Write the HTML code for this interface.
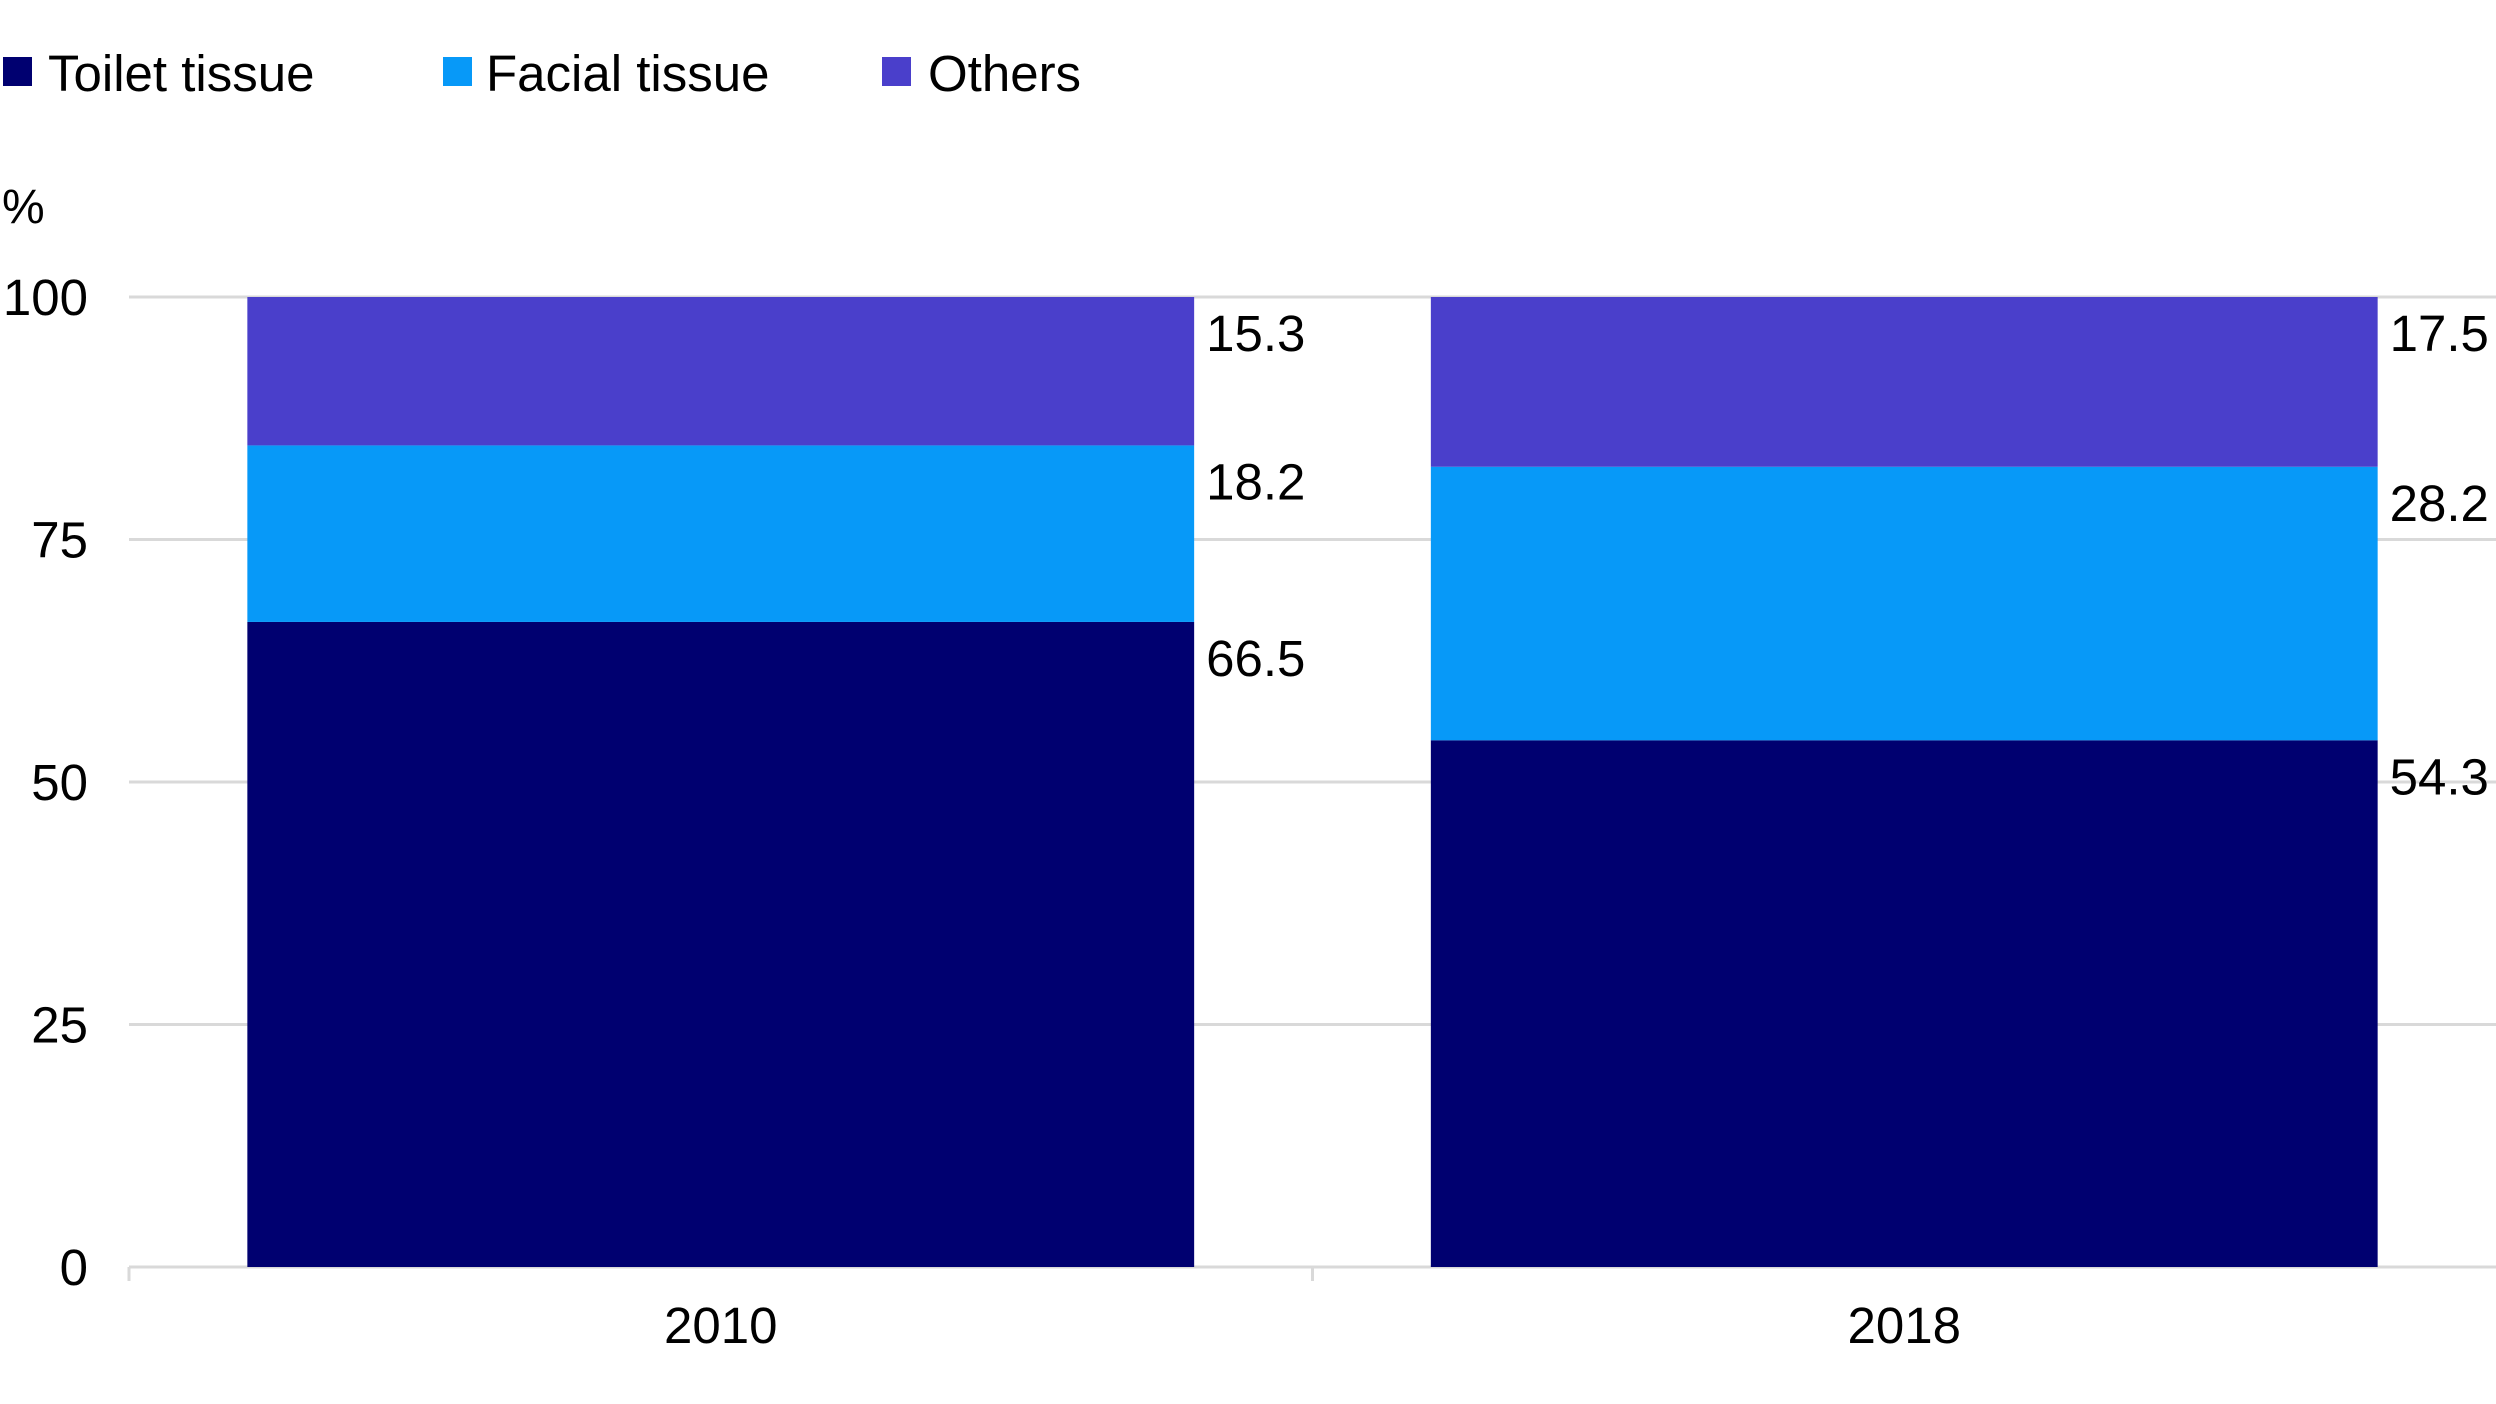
<!DOCTYPE html>
<html><head><meta charset="utf-8"><style>
html,body{margin:0;padding:0;background:#fff;}
svg{display:block;font-family:"Liberation Sans",sans-serif;}
</style></head><body>
<svg id="chart" width="2496" height="1404" viewBox="0 0 2496 1404" xmlns="http://www.w3.org/2000/svg">
<g>
<g><rect x="3" y="57" width="29" height="29" fill="#000070"/><text x="48" y="91" font-size="51" fill="#000">Toilet tissue</text></g>
<g><rect x="443" y="57" width="29" height="29" fill="#0799F8"/><text x="486" y="91" font-size="51" fill="#000">Facial tissue</text></g>
<g><rect x="882" y="57" width="29" height="29" fill="#4A3FCB"/><text x="928" y="91" font-size="51" fill="#000">Others</text></g>
</g>
<text x="2" y="223" font-size="48" fill="#000">%</text>
<g id="grid"></g><g id="bars"></g><g id="labels"></g>
</svg>
<script>
const categories = ["2010", "2018"];
const toilet = [66.5, 54.3];
const facial = [18.2, 28.2];
const others = [15.3, 17.5];
const yTicks = [0, 25, 50, 75, 100];
const seriesNames = ["toilet-tissue", "facial-tissue", "others"];
const colors = ["#000070", "#0799F8", "#4A3FCB"];

const NS = "http://www.w3.org/2000/svg";
const left = 129, right = 2496, y0 = 1267, y100 = 297;
const slot = (right - left) / categories.length;
const bw = slot * 0.8;
const y = v => y0 - (v / 100) * (y0 - y100);
const xc = i => left + slot * (i + 0.5);
function mk(tag, attrs, parent, text) {
  const e = document.createElementNS(NS, tag);
  for (const k in attrs) e.setAttribute(k, attrs[k]);
  if (text !== undefined) e.textContent = text;
  parent.appendChild(e);
  return e;
}
const grid = document.getElementById("grid");
yTicks.forEach(t => {
  const l = mk("line", {x1: left, x2: right, y1: y(t), y2: y(t), stroke: "#d9d9d9", "stroke-width": 3}, grid);
  
  
  const tx = mk("text", {x: 88, y: y(t) + 18, "font-size": 51, "text-anchor": "end", fill: "#000"}, grid, String(t));
  
  
});
const ax = mk("line", {x1: left, x2: left, y1: y0, y2: y0 + 14, stroke: "#d9d9d9", "stroke-width": 3}, grid);


for (let i = 1; i < categories.length; i++) {
  const tk = mk("line", {x1: left + slot * i, x2: left + slot * i, y1: y0, y2: y0 + 14, stroke: "#d9d9d9", "stroke-width": 3}, grid);
  
  
}
const bars = document.getElementById("bars");
const labels = document.getElementById("labels");
const series = [toilet, facial, others];
categories.forEach((c, i) => {
  let base = 0;
  const x = xc(i) - bw / 2;
  series.forEach((s, k) => {
    const v = s[i];
    const r = mk("rect", {x: x, y: y(base + v), width: bw, height: y(base) - y(base + v), fill: colors[k]}, bars);
    
    
    const lt = mk("text", {x: x + bw + 12, y: y(base + v) + 54, "font-size": 51, fill: "#000"}, labels, v.toFixed(1));
    
    
    base += v;
  });
  const cl = mk("text", {x: xc(i), y: 1343, "font-size": 51, "text-anchor": "middle", fill: "#000"}, labels, c);
  
  
});
</script>
</body></html>
